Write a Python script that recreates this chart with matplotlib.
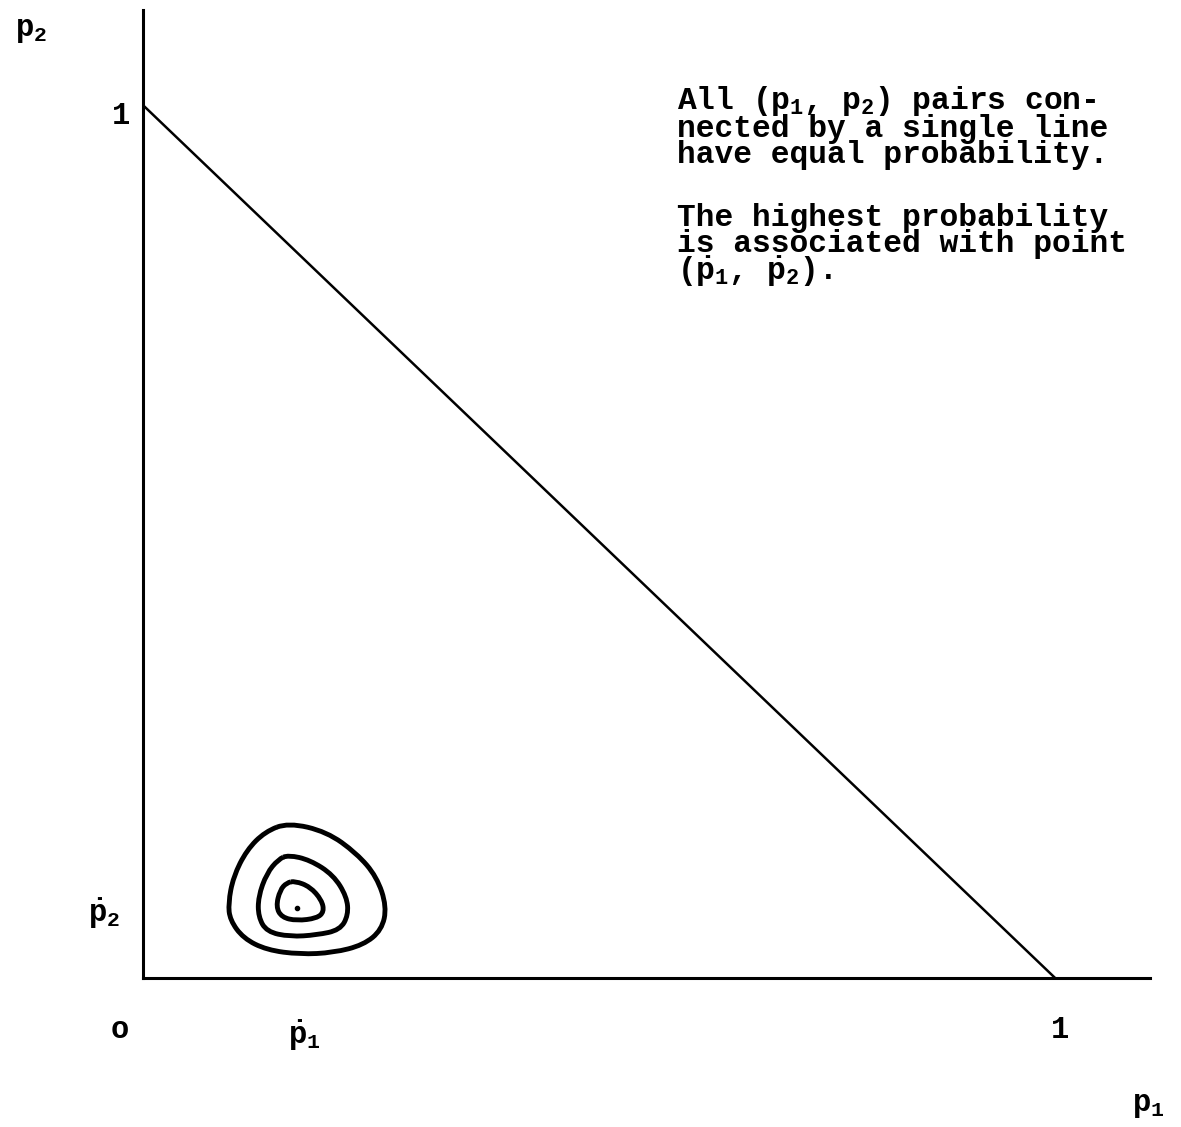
import numpy as np
import matplotlib
matplotlib.use("Agg")
import matplotlib.pyplot as plt
from matplotlib.path import Path
from matplotlib.patches import PathPatch

plt.rcParams["mathtext.fontset"] = "custom"
plt.rcParams["mathtext.rm"] = "Liberation Mono:bold"
plt.rcParams["mathtext.it"] = "Liberation Mono:bold"
plt.rcParams["mathtext.bf"] = "Liberation Mono:bold"

# simplex boundary p1 + p2 = 1
edge_p1 = [0.0, 1.0]
edge_p2 = [1.0, 0.0]

# most probable point (p1_hat, p2_hat)
p1_hat = 0.1685
p2_hat = 0.0798

# equal-probability contours (outer -> inner)
outer_p1 = [0.1593, 0.2014, 0.2343, 0.2563, 0.2672, 0.2617, 0.2416, 0.2087,
            0.1721, 0.1356, 0.1100, 0.0954, 0.0935, 0.0990, 0.1137, 0.1338]
outer_p2 = [0.1779, 0.1676, 0.1428, 0.1160, 0.0817, 0.0550, 0.0378, 0.0290,
            0.0271, 0.0321, 0.0455, 0.0664, 0.0856, 0.1160, 0.1466, 0.1676]
middle_p1 = [0.1593, 0.1831, 0.2087, 0.2234, 0.2251, 0.2160, 0.1905, 0.1612,
             0.1356, 0.1264, 0.1264, 0.1356, 0.1484]
middle_p2 = [0.1409, 0.1352, 0.1180, 0.0931, 0.0722, 0.0550, 0.0493, 0.0473,
             0.0530, 0.0702, 0.0931, 0.1199, 0.1360]
inner_p1 = [0.1667, 0.1831, 0.1959, 0.1985, 0.1905, 0.1685, 0.1521, 0.1458,
            0.1502, 0.1576]
inner_p2 = [0.1111, 0.1046, 0.0893, 0.0759, 0.0684, 0.0656, 0.0695, 0.0817,
            0.1008, 0.1092]

P1 = r"$\mathrm{p}_1$"
P2 = r"$\mathrm{p}_2$"
P1_HAT = r"$\dot{\mathrm{p}}_1$"
P2_HAT = r"$\dot{\mathrm{p}}_2$"

note_1 = ["All (" + P1 + ", " + P2 + ") pairs con-",
          "nected by a single line",
          "have equal probability."]
note_2 = ["The highest probability",
          "is associated with point",
          "(" + P1_HAT + ", " + P2_HAT + ")."]

mono = ["Liberation Mono", "DejaVu Sans Mono"]


def closed_curve(xs, ys):
    # smooth closed path using the read points as quadratic control points
    pts = np.column_stack([xs, ys])
    mids = (pts + np.roll(pts, -1, axis=0)) / 2
    verts = [mids[-1]]
    codes = [Path.MOVETO]
    for i in range(len(pts)):
        verts += [pts[i], mids[i]]
        codes += [Path.CURVE3, Path.CURVE3]
    return Path(verts, codes)


fig = plt.figure(figsize=(11.81, 11.27), dpi=100)
ax = fig.add_axes([143 / 1181, 149 / 1127, 1007 / 1181, 968 / 1127])
ax.set_xlim(0, 1.104)
ax.set_ylim(0, 1.109)
for s in ["top", "right"]:
    ax.spines[s].set_visible(False)
for s in ["left", "bottom"]:
    ax.spines[s].set_linewidth(2.2)
ax.set_xticks([])
ax.set_yticks([])

ax.plot(edge_p1, edge_p2, color="black", lw=1.8)

for xs, ys in [(outer_p1, outer_p2), (middle_p1, middle_p2), (inner_p1, inner_p2)]:
    ax.add_patch(PathPatch(closed_curve(xs, ys), fill=False, lw=3.5,
                           color="black", joinstyle="round"))
ax.plot(p1_hat, p2_hat, "o", color="black", ms=3)

kw = dict(family=mono, fontweight="bold", fontsize=22, clip_on=False,
          ha="center", va="center")
ax.text(-0.123, 1.086, P2, **kw)
ax.text(-0.024, 0.987, "1", **kw)
ax.text(-0.043, p2_hat - 0.006, P2_HAT, **kw)
ax.text(-0.026, -0.060, "o", **kw)
ax.text(p1_hat + 0.008, -0.066, P1_HAT, **kw)
ax.text(1.005, -0.060, "1", **kw)
ax.text(1.102, -0.146, P1, **kw)

note_kw = dict(family=mono, fontweight="bold", fontsize=22.5, ha="left",
               va="top", linespacing=0.82)
ax.text(0.5855, 1.024, "\n".join(note_1), **note_kw)
ax.text(0.5855, 0.888, "\n".join(note_2), **note_kw)

fig.savefig("out.png", dpi=100, facecolor="white")
